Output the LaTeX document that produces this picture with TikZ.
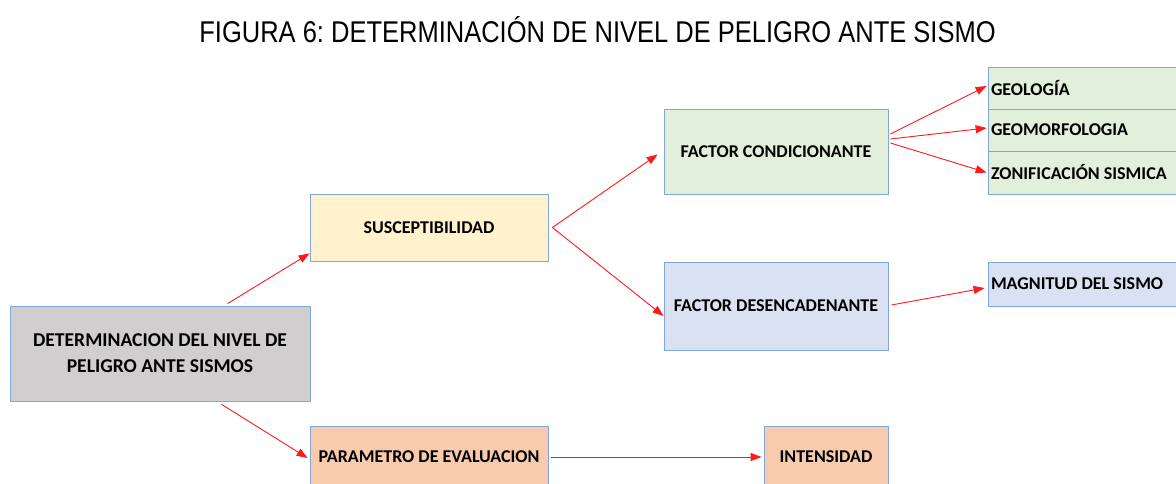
\documentclass[tikz,border=0pt]{standalone}
\usepackage{fontspec}
\setmainfont{Carlito}
\newfontfamily\titlefont[FakeStretch=0.85]{Liberation Sans}
\usetikzlibrary{arrows.meta,calc}
\definecolor{bordercol}{HTML}{7FA7D9}
\definecolor{grayfill}{HTML}{D0CECE}
\definecolor{yellowfill}{HTML}{FFF2CC}
\definecolor{greenfill}{HTML}{E2EFDA}
\definecolor{bluefill}{HTML}{D9E1F2}
\definecolor{orangefill}{HTML}{F8CBAD}
\definecolor{arrred}{HTML}{FF1A1A}
\frenchspacing
\begin{document}
\begin{tikzpicture}[x=1pt,y=-1pt,
  box/.style={draw=bordercol, line width=0.8pt, inner sep=0pt, align=center,
    font=\bfseries\fontsize{18}{26}\selectfont},
  lbox/.style={box, inner xsep=3pt, text width=186pt, align=flush left},
  arr/.style={draw=arrred, line width=0.9pt, -{Triangle[length=11pt,width=8pt]}}]
\useasboundingbox (0,0) rectangle (1176,484);
\clip (0,0) rectangle (1176,484);
\fill[white] (0,0) rectangle (1176,484);
\node[font=\titlefont\fontsize{30}{34}\selectfont] (title) at (597.5,30) {FIGURA 6: DETERMINACIÓN DE NIVEL DE PELIGRO ANTE SISMO};
\node[box, fill=grayfill, minimum width=300pt, minimum height=95pt, font=\bfseries\fontsize{19.6}{26}\selectfont] (main) at (160,353.5) {DETERMINACION DEL NIVEL DE\\PELIGRO ANTE SISMOS};
\node[box, fill=yellowfill, minimum width=238pt, minimum height=67pt] (sus) at (429,227.5) {SUSCEPTIBILIDAD};
\node[box, fill=greenfill, minimum width=224pt, minimum height=85pt] (fc) at (776,151.5) {FACTOR CONDICIONANTE};
\node[box, fill=bluefill, minimum width=224pt, minimum height=88pt] (fd) at (776,306) {FACTOR DESENCADENANTE};
\node[lbox, fill=greenfill, minimum height=42pt] (geo) at (1084,88) {GEOLOGÍA};
\node[lbox, fill=greenfill, minimum height=42pt] (geom) at (1084,130) {GEOMORFOLOGIA};
\node[lbox, fill=greenfill, minimum height=43pt] (zon) at (1084,172.5) {ZONIFICACIÓN SISMICA};
\node[lbox, fill=bluefill, minimum height=44pt] (mag) at (1084,284) {MAGNITUD DEL SISMO};
\node[box, fill=orangefill, minimum width=238pt, minimum height=62pt] (par) at (429,457) {PARAMETRO DE EVALUACION};
\node[box, fill=orangefill, minimum width=124pt, minimum height=62pt] (int) at (826,457) {INTENSIDAD};
\draw[arr] ($(main.north west)+(218,-2)$) -- ($(sus.south west)+(0,-8)$);
\draw[arr] ($(main.south west)+(212,3)$) -- ($(par.west)+(-2,1)$);
\draw[arr] ($(sus.east)+(4,0)$) -- ($(fc.west)+(-6,3)$);
\draw[arr] ($(sus.east)+(4,0)$) -- ($(fd.west)+(0,10)$);
\draw[arr] ($(fc.east)+(2,-17.5)$) -- ($(geo.west)+(-1,-2)$);
\draw[arr] ($(fc.east)+(2,-12.5)$) -- ($(geom.west)+(-1,-2)$);
\draw[arr] ($(fc.east)+(2,-8.5)$) -- ($(zon.west)+(-1,0)$);
\draw[arr] ($(fd.east)+(3,-1)$) -- ($(mag.west)+(-3,4)$);
\draw[arr] ($(par.east)+(3,0)$) -- ($(int.west)+(-2,0)$);
\end{tikzpicture}
\end{document}
